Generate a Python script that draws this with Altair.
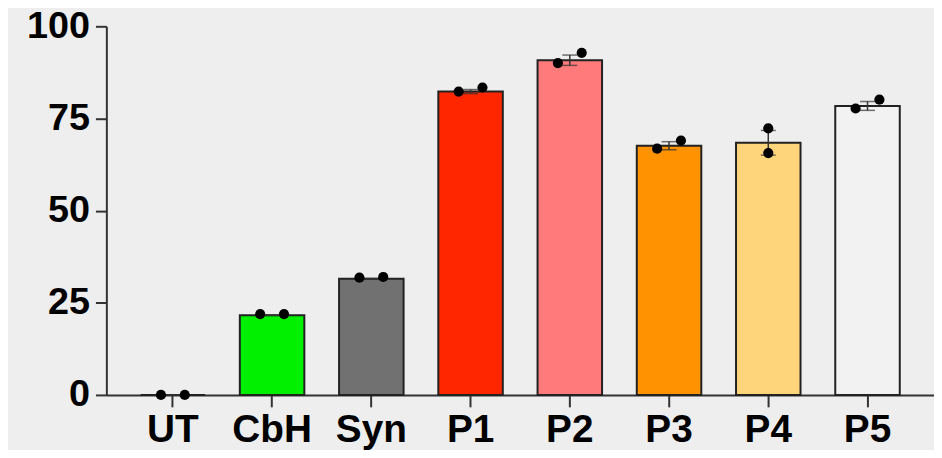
import altair as alt
import numpy as np
import pandas as pd

categories = ["UT", "CbH", "Syn", "P1", "P2", "P3", "P4", "P5"]
bar_values = [0.0, 21.6, 31.5, 82.3, 90.8, 67.6, 68.4, 78.4]
rep1 = [0.0, 21.9, 31.8, 82.3, 90.0, 66.8, 72.3, 77.7]
rep2 = [0.0, 21.9, 32.0, 83.4, 92.8, 69.0, 65.6, 80.1]
colors = ["#eeeeee", "#00f000", "#717171", "#ff2600", "#ff7b7b", "#ff9200", "#ffd57b", "#f2f2f2"]

r1 = np.array(rep1)
r2 = np.array(rep2)
sem = np.std(np.vstack([r1, r2]), axis=0, ddof=1) / np.sqrt(2)
bars = pd.DataFrame({
    "category": categories,
    "value": bar_values,
    "lo": np.array(bar_values) - sem,
    "hi": np.array(bar_values) + sem,
})
# replicate points are spread sideways only when they would overlap
spread = (np.abs(r1 - r2) < 5).astype(float)
points = pd.DataFrame({
    "category": categories * 2,
    "value": rep1 + rep2,
    "off": list(-12 * spread) + list(12 * spread),
})

font = "Liberation Sans"
x_enc = alt.X(
    "category:N",
    sort=categories,
    scale=alt.Scale(domain=categories, paddingInner=0.35, paddingOuter=0.345),
    axis=alt.Axis(title=None, labelAngle=0, labelFontSize=39, labelFont=font,
                  labelFontWeight="bold", labelColor="#000", labelPadding=4,
                  tickSize=12, tickWidth=2, tickColor="#333",
                  domainWidth=2, domainColor="#333"),
)
y_scale = alt.Scale(domain=[0, 100], nice=False, zero=True)
y_enc = alt.Y(
    "value:Q",
    scale=y_scale,
    axis=alt.Axis(title=None, values=[0, 25, 50, 75, 100], grid=False,
                  labelFontSize=38, labelFont=font, labelFontWeight="bold",
                  labelColor="#000", labelPadding=6, tickSize=11, tickWidth=2,
                  tickColor="#333", domainWidth=2, domainColor="#333"),
)

bar_layer = alt.Chart(bars).mark_bar(stroke="#222", strokeWidth=2).encode(
    x=x_enc,
    y=y_enc,
    color=alt.Color("category:N", scale=alt.Scale(domain=categories, range=colors), legend=None),
)
err_rule = alt.Chart(bars).mark_rule(color="#333", strokeWidth=1.5).encode(
    x=x_enc, y=alt.Y("lo:Q", scale=y_scale), y2="hi:Q"
)
err_lo = alt.Chart(bars).mark_tick(color="#333", size=15, thickness=1.5).encode(
    x=x_enc, y=alt.Y("lo:Q", scale=y_scale)
)
err_hi = alt.Chart(bars).mark_tick(color="#333", size=15, thickness=1.5).encode(
    x=x_enc, y=alt.Y("hi:Q", scale=y_scale)
)
pts = alt.Chart(points).mark_circle(size=105, color="#000", opacity=1).encode(
    x=x_enc,
    xOffset=alt.XOffset("off:Q", scale=alt.Scale(domain=[-32.5, 32.5])),
    y=alt.Y("value:Q", scale=y_scale),
)

chart = alt.layer(bar_layer, err_rule, err_lo, err_hi, pts).resolve_scale(
    xOffset="independent"
).properties(
    width=833, height=371,
    background="#eeeeee",
    padding={"left": 99, "top": 17, "right": 0, "bottom": 54},
    autosize=alt.AutoSizeParams(type="none"),
).configure_view(stroke=None)

chart.save("out.html", embed_options={"renderer": "svg", "actions": False})
